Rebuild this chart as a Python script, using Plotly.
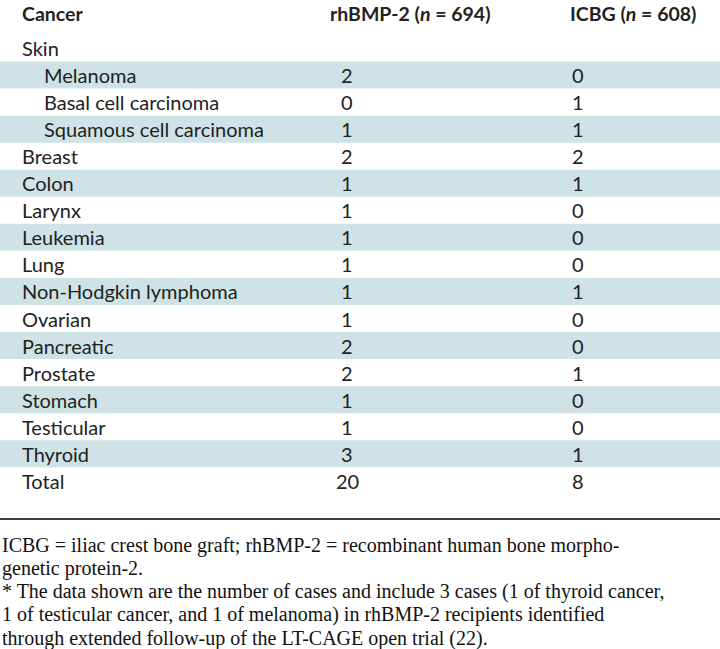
import plotly.graph_objects as go

cancers = ["Skin", "Melanoma", "Basal cell carcinoma", "Squamous cell carcinoma", "Breast", "Colon",
           "Larynx", "Leukemia", "Lung", "Non-Hodgkin lymphoma", "Ovarian", "Pancreatic", "Prostate",
           "Stomach", "Testicular", "Thyroid", "Total"]
indent = [False, True, True, True] + [False] * 13
rhbmp = ["", "2", "0", "1", "2", "1", "1", "1", "1", "1", "1", "2", "2", "1", "1", "3", "20"]
icbg = ["", "0", "1", "1", "2", "1", "0", "0", "0", "1", "0", "0", "1", "0", "0", "1", "8"]
shaded = [False, True, False, True, False, True, False, True, False, True, False, True, False, True, False, True, False]
headers = ["Cancer", "rhBMP-2 (<i>n</i> = 694)", "ICBG (<i>n</i> = 608)"]
footnotes = [
    "ICBG = iliac crest bone graft; rhBMP-2 = recombinant human bone morpho-",
    "genetic protein-2.",
    "* The data shown are the number of cases and include 3 cases (1 of thyroid cancer,",
    "1 of testicular cancer, and 1 of melanoma) in rhBMP-2 recipients identified",
    "through extended follow-up of the LT-CAGE open trial (22).",
]

SANS = "Lato"
SERIF = "Liberation Serif"
y0, dy = 48, 27.05
ys = [y0 + i * dy for i in range(len(cancers))]

fig = go.Figure()
shapes = []
for y, s in zip(ys, shaded):
    if s:
        shapes.append(dict(type="rect", x0=0, x1=720, y0=y - 13.5, y1=y + 13.5,
                           fillcolor="#cfe2e6", line_width=0, layer="below"))
shapes.append(dict(type="line", x0=0, x1=720, y0=519, y1=519, line=dict(color="black", width=1.5)))

F = dict(family=SANS, size=20, color="#222")
ann = []
for x, h in zip([20, 328, 568], headers):
    ann.append(dict(x=x, y=13, text="<b>" + h + "</b>", xanchor="left", showarrow=False,
                    font=dict(family=SANS, size=19.5, color="#222")))
for y, c, ind, a, b in zip(ys, cancers, indent, rhbmp, icbg):
    ann.append(dict(x=42 if ind else 20, y=y, text=c, xanchor="left", showarrow=False, font=F))
    ann.append(dict(x=347, y=y, text=a, xanchor="center", showarrow=False, font=F))
    ann.append(dict(x=578, y=y, text=b, xanchor="center", showarrow=False, font=F))
for i, t in enumerate(footnotes):
    ann.append(dict(x=0, y=545 + i * 23.3, text=t, xanchor="left", showarrow=False,
                    font=dict(family=SERIF, size=20, color="#111")))

fig.update_layout(
    width=720, height=649, margin=dict(l=0, r=0, t=0, b=0),
    plot_bgcolor="white", paper_bgcolor="white", showlegend=False,
    xaxis=dict(range=[0, 720], visible=False, fixedrange=True),
    yaxis=dict(range=[649, 0], visible=False, fixedrange=True),
    shapes=shapes, annotations=ann,
)
fig.write_html("out.html", config={"displayModeBar": False},
               post_script="document.body.style.margin='0';document.body.style.overflow='hidden';")
